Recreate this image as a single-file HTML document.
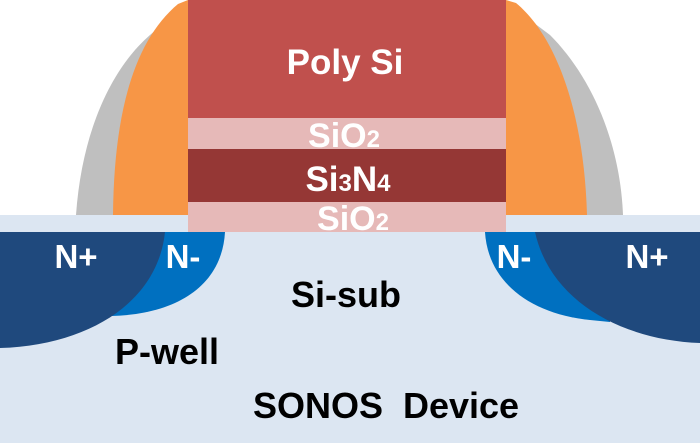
<!DOCTYPE html>
<html><head><meta charset="utf-8"><style>
html,body{margin:0;padding:0;background:#fff;width:700px;height:443px;overflow:hidden}
svg{display:block}
text{font-family:"Liberation Sans",sans-serif;font-weight:bold}
</style></head><body>
<svg width="700" height="443" viewBox="0 0 700 443" xmlns="http://www.w3.org/2000/svg">
<rect x="0" y="0" width="700" height="443" fill="#fff"/>
<rect x="0" y="215" width="700" height="228" fill="#dce6f2"/>
<path d="M76,215 C82,130 112,68 150,35 L188,2 L188,215 Z" fill="#bfbfbf"/>
<path d="M113,215 C114,110 135,40 178,4 L188,0 L188,215 Z" fill="#f79646"/>
<path d="M506,2 L550,35 C590,75 620,140 623,215 L506,215 Z" fill="#bfbfbf"/>
<path d="M506,0 L516,3 C555,35 584,110 587,215 L506,215 Z" fill="#f79646"/>
<rect x="188" y="0" width="318" height="118" fill="#c0504d"/>
<rect x="188" y="118" width="318" height="31" fill="#e6b9b8"/>
<rect x="188" y="149" width="318" height="53" fill="#953735"/>
<rect x="188" y="202" width="318" height="30" fill="#e6b9b8"/>
<path d="M90,232 L225,232 C222,285 178,314 112,316 L90,316 Z" fill="#0070c0"/>
<path d="M0,232 L165,232 C158,300 92,345 0,348 Z" fill="#1f497d"/>
<path d="M485,232 L610,232 L610,322 L590,320 C530,314 488,282 485,232 Z" fill="#0070c0"/>
<path d="M535,232 L700,232 L700,343 C620,340 550,300 535,232 Z" fill="#1f497d"/>
<text x="345" y="74" font-size="35" fill="#fff" text-anchor="middle">Poly Si</text>
<text x="344" y="147" font-size="34" fill="#fff" text-anchor="middle">SiO<tspan font-size="24">2</tspan></text>
<text x="348" y="191" font-size="35" fill="#fff" text-anchor="middle">Si<tspan font-size="24">3</tspan>N<tspan font-size="24">4</tspan></text>
<text x="353" y="230" font-size="34" fill="#fff" text-anchor="middle">SiO<tspan font-size="24">2</tspan></text>
<text x="76" y="268" font-size="33" fill="#fff" text-anchor="middle">N+</text>
<text x="183" y="268" font-size="33" fill="#fff" text-anchor="middle">N-</text>
<text x="514" y="268" font-size="33" fill="#fff" text-anchor="middle">N-</text>
<text x="647" y="268" font-size="33" fill="#fff" text-anchor="middle">N+</text>
<text x="346" y="307" font-size="36" fill="#000" text-anchor="middle">Si-sub</text>
<text x="167" y="364" font-size="36" fill="#000" text-anchor="middle">P-well</text>
<text x="386" y="418" font-size="36" fill="#000" text-anchor="middle" xml:space="preserve">SONOS  Device</text>
</svg>
</body></html>
